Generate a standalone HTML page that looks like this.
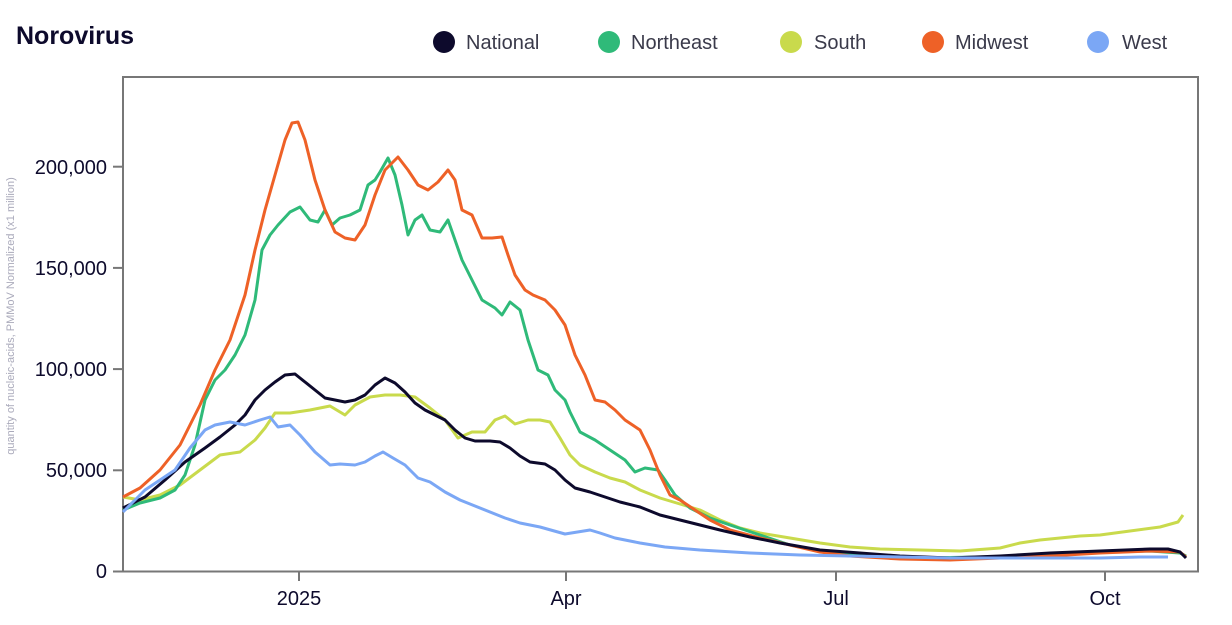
<!DOCTYPE html>
<html><head><meta charset="utf-8"><style>
body{margin:0;background:#fff;width:1232px;height:620px;overflow:hidden}
svg{font-family:"Liberation Sans",sans-serif}
</style></head><body>
<svg width="1232" height="620" viewBox="0 0 1232 620">
<text x="16" y="44" font-size="25" font-weight="bold" fill="#0d0a2c">Norovirus</text>
<g font-size="20" fill="#3a3a4a">
<circle cx="444" cy="42" r="11" fill="#0d0a2c"/><text x="466" y="49">National</text>
<circle cx="609" cy="42" r="11" fill="#2fba79"/><text x="631" y="49">Northeast</text>
<circle cx="791" cy="42" r="11" fill="#c9da4c"/><text x="814" y="49">South</text>
<circle cx="933" cy="42" r="11" fill="#ee6127"/><text x="955" y="49">Midwest</text>
<circle cx="1098" cy="42" r="11" fill="#7ba7f5"/><text x="1122" y="49">West</text>
</g>
<rect x="123" y="77" width="1075" height="494.5" fill="none" stroke="#777" stroke-width="2"/>
<g stroke="#777" stroke-width="2">
<line x1="113" x2="123" y1="571.5" y2="571.5"/><line x1="113" x2="123" y1="470.3" y2="470.3"/>
<line x1="113" x2="123" y1="369.1" y2="369.1"/><line x1="113" x2="123" y1="267.9" y2="267.9"/>
<line x1="113" x2="123" y1="166.7" y2="166.7"/>
<line x1="299" x2="299" y1="571.5" y2="581"/><line x1="566" x2="566" y1="571.5" y2="581"/>
<line x1="836" x2="836" y1="571.5" y2="581"/><line x1="1105" x2="1105" y1="571.5" y2="581"/>
</g>
<g font-size="20" fill="#0d0a2c" text-anchor="end">
<text x="107" y="578">0</text><text x="107" y="477">50,000</text><text x="107" y="376">100,000</text>
<text x="107" y="275">150,000</text><text x="107" y="174">200,000</text>
</g>
<g font-size="20" fill="#0d0a2c" text-anchor="middle">
<text x="299" y="605">2025</text><text x="566" y="605">Apr</text><text x="836" y="605">Jul</text><text x="1105" y="605">Oct</text>
</g>
<text transform="translate(14,316) rotate(-90)" font-size="11" fill="#aab" text-anchor="middle">quantity of nucleic-acids, PMMoV Normalized (x1 million)</text>
<g fill="none" stroke-width="3" stroke-linejoin="round">
<polyline stroke="#c9da4c" points="123,497 140,500 160,495 180,485 200,470 220,455 240,452 255,440 265,428 275,413 290,413 310,410 330,406 345,415 355,405 370,397 385,395 400,395 415,397 430,408 445,420 458,438 472,432 485,432 495,420 505,416 515,424 528,420 540,420 550,422 560,438 570,455 580,465 595,472 610,478 625,482 640,490 660,498 680,504 700,510 720,520 740,528 760,533 790,538 820,543 850,547 880,549 920,550 960,551 1000,548 1020,543 1040,540 1060,538 1080,536 1100,535 1130,531 1160,527 1178,522 1183,515"/>
<polyline stroke="#2fba79" points="123,510 140,503 160,498 175,490 185,475 195,445 205,400 215,380 225,370 235,355 245,335 255,300 262,250 270,235 278,225 290,212 300,207 310,220 318,222 325,210 332,225 340,218 350,215 360,210 368,185 375,180 380,172 388,158 395,175 402,205 408,235 415,220 422,215 430,230 440,232 448,220 455,240 462,260 472,280 482,300 495,308 502,315 510,302 520,310 528,340 538,370 548,375 555,390 565,400 570,412 580,432 595,440 610,450 625,460 635,472 645,468 658,470 665,480 675,495 690,508 710,518 730,525 760,535 790,545 830,553 870,556 920,558 980,557 1040,556 1100,552 1150,551 1180,553 1186,556"/>
<polyline stroke="#ee6127" points="123,497 140,488 160,470 180,445 200,405 215,370 230,340 245,295 255,250 265,210 275,175 285,140 292,123 298,122 305,140 315,180 325,210 335,232 345,238 355,240 365,225 375,195 385,170 398,157 408,170 418,185 428,190 438,182 448,170 455,180 462,210 472,215 482,238 492,238 502,237 508,255 515,275 525,290 533,295 545,300 555,310 565,325 575,355 585,375 595,400 605,402 615,410 625,420 640,430 650,450 660,475 670,495 680,500 695,510 710,520 730,530 760,538 790,545 820,552 850,556 900,559 950,560 1000,558 1050,556 1100,553 1150,551 1180,552 1186,557"/>
<polyline stroke="#0d0a2c" points="123,508 145,497 165,480 185,462 205,448 220,437 235,425 245,415 255,400 265,390 275,382 285,375 295,374 305,382 315,390 325,398 335,400 345,402 355,400 365,395 375,385 385,378 395,383 405,392 415,403 425,410 435,415 445,420 455,430 465,438 475,441 490,441 500,442 510,448 520,456 530,462 545,464 555,470 565,480 575,488 590,492 605,497 620,502 640,507 660,515 680,520 700,525 720,530 750,537 780,543 820,550 860,553 900,556 950,558 1000,556 1050,553 1100,551 1150,549 1168,549 1180,552 1186,558"/>
<polyline stroke="#7ba7f5" points="123,512 135,500 145,490 160,480 175,470 190,448 205,430 215,425 230,422 245,425 260,420 270,417 278,427 290,425 300,435 315,452 330,465 340,464 355,465 365,462 375,456 383,452 393,458 405,465 418,478 430,482 445,492 460,500 475,506 490,512 505,518 520,523 540,527 565,534 590,530 600,533 615,538 640,543 665,547 700,550 750,553 800,555 850,556 900,557 950,558 1000,558 1050,558 1100,558 1140,557 1168,557"/>
</g>
</svg>
</body></html>
